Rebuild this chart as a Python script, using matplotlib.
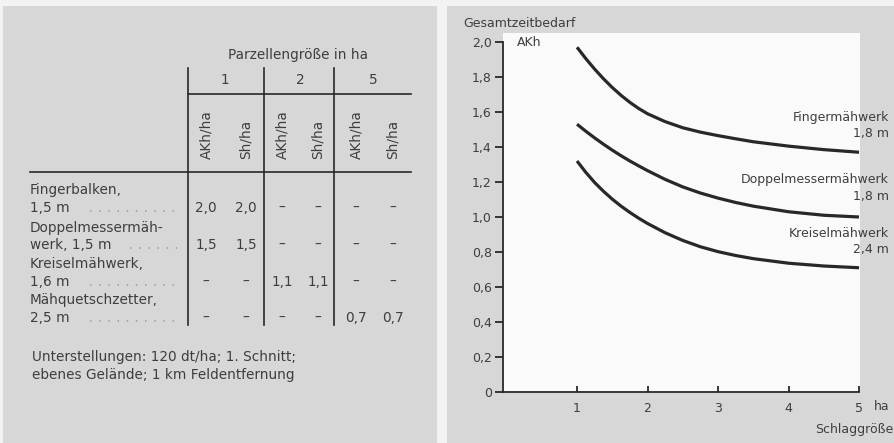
import matplotlib
matplotlib.use("Agg")
import matplotlib.pyplot as plt
from matplotlib.patches import Rectangle

plt.rcParams["font.family"] = ["DejaVu Sans"]

# curve data (Schlaggröße in ha -> Gesamtzeitbedarf AKh/ha)
x_ha = [1.0, 1.125, 1.25, 1.375, 1.5, 1.625, 1.75, 1.875, 2.0, 2.25, 2.5, 2.75,
        3.0, 3.25, 3.5, 4.0, 4.5, 5.0]
finger = [1.97, 1.905, 1.845, 1.79, 1.74, 1.695, 1.655, 1.62, 1.59, 1.545, 1.51, 1.485,
          1.465, 1.447, 1.43, 1.405, 1.385, 1.37]
doppel = [1.53, 1.49, 1.452, 1.416, 1.382, 1.35, 1.32, 1.292, 1.265, 1.215, 1.172, 1.137,
          1.108, 1.083, 1.062, 1.03, 1.01, 1.00]
kreisel = [1.32, 1.255, 1.197, 1.147, 1.102, 1.062, 1.026, 0.993, 0.963, 0.91, 0.866, 0.83,
           0.802, 0.78, 0.762, 0.736, 0.72, 0.71]
curve_names = ["Fingermähwerk", "Doppelmessermähwerk", "Kreiselmähwerk"]
curve_widths = ["1,8 m", "1,8 m", "2,4 m"]
yticks = [0, 0.2, 0.4, 0.6, 0.8, 1.0, 1.2, 1.4, 1.6, 1.8, 2.0]
ytick_labels = ["0", "0,2", "0,4", "0,6", "0,8", "1,0", "1,2", "1,4", "1,6", "1,8", "2,0"]
xticks = [1, 2, 3, 4, 5]

# table data
group_sizes = ["1", "2", "5"]
sub_headers = ["AKh/ha", "Sh/ha"]
row_labels = [("Fingerbalken,", "1,5 m"), ("Doppelmessermäh-", "werk, 1,5 m"),
              ("Kreiselmähwerk,", "1,6 m"), ("Mähquetschzetter,", "2,5 m")]
table_values = [["2,0", "2,0", "–", "–", "–", "–"],
                ["1,5", "1,5", "–", "–", "–", "–"],
                ["–", "–", "1,1", "1,1", "–", "–"],
                ["–", "–", "–", "–", "0,7", "0,7"]]
footnote = ["Unterstellungen: 120 dt/ha; 1. Schnitt;",
            "ebenes Gelände; 1 km Feldentfernung"]

W, H = 895, 443
PANEL = "#d7d7d7"
TXT = "#3e3e3e"
INK = "#282828"

fig = plt.figure(figsize=(W / 100, H / 100), dpi=100, facecolor="#f3f3f3")

# overlay axes in pixel coordinates for panels and the table
ov = fig.add_axes([0, 0, 1, 1])
ov.set_xlim(0, W)
ov.set_ylim(H, 0)
ov.set_axis_off()
ov.add_patch(Rectangle((3, 6), 434, H - 6, facecolor=PANEL, edgecolor="none"))
ov.add_patch(Rectangle((447, 6), W - 447, H - 6, facecolor=PANEL, edgecolor="none"))
ov.add_patch(Rectangle((503, 33), 357, 360, facecolor="#fafafa", edgecolor="none"))

# ---- table ----
fs = 9.8
ov.text(298, 55, "Parzellengröße in ha", ha="center", va="center", fontsize=fs, color=TXT)
col_lines = [188, 264, 334]
for xl in col_lines:
    ov.plot([xl, xl], [68, 325], color=INK, lw=1.2)
ov.plot([188, 411], [94, 94], color=INK, lw=1.2)
ov.plot([30, 411], [172, 172], color=INK, lw=1.2)
group_x = [225, 300, 373]
for gx, g in zip(group_x, group_sizes):
    ov.text(gx, 80, g, ha="center", va="center", fontsize=fs, color=TXT)
col_x = [206, 246, 282, 318, 356, 393]
for i, cx in enumerate(col_x):
    ov.text(cx, 159, sub_headers[i % 2], ha="center", va="bottom", rotation=90,
            fontsize=fs, color=TXT)
row_y1 = [190, 228, 264, 300]
row_y2 = [208, 245, 282, 318]
dot_start = [90, 130, 90, 90]
for r, (l1, l2) in enumerate(row_labels):
    ov.text(30, row_y1[r], l1, ha="left", va="center", fontsize=fs, color=TXT)
    ov.text(30, row_y2[r], l2, ha="left", va="center", fontsize=fs, color=TXT)
    ov.plot([dot_start[r], 177], [row_y2[r] + 3, row_y2[r] + 3], color="#9a9a9a",
            lw=1.1, linestyle=(0, (1, 5)))
    for cx, v in zip(col_x, table_values[r]):
        ov.text(cx, row_y2[r], v, ha="center", va="center", fontsize=fs, color=TXT)
ov.text(32, 357, footnote[0], ha="left", va="center", fontsize=fs, color=TXT)
ov.text(32, 375, footnote[1], ha="left", va="center", fontsize=fs, color=TXT)

# ---- chart ----
ax = fig.add_axes([503 / W, 1 - 392 / H, 356 / W, 350 / H])
ax.set_facecolor("none")
ax.set_xlim(-0.05, 5)
ax.set_ylim(0, 2.0)
for s in ["top", "right"]:
    ax.spines[s].set_visible(False)
for s in ["left", "bottom"]:
    ax.spines[s].set_color(INK)
    ax.spines[s].set_linewidth(1.3)
ax.spines["left"].set_bounds(0, 2.0)
ax.set_yticks(yticks)
ax.set_yticklabels(ytick_labels)
ax.set_xticks(xticks)
ax.set_xticklabels([str(t) for t in xticks])
ax.tick_params(axis="y", direction="out", length=6, width=1.3, color=INK,
               labelsize=9, labelcolor=TXT, pad=2)
ax.tick_params(axis="x", direction="in", length=4, width=1.3, color=INK,
               labelsize=9, labelcolor=TXT, pad=7)

for ys in [finger, doppel, kreisel]:
    ax.plot(x_ha, ys, color=INK, lw=2.3, solid_capstyle="butt",
            solid_joinstyle="round", clip_on=False)

ov.text(463, 23, "Gesamtzeitbedarf", ha="left", va="center", fontsize=9, color=TXT)
ov.text(517, 42, "AKh", ha="left", va="center", fontsize=9, color=TXT)
ov.text(874, 407, "ha", ha="left", va="center", fontsize=9, color=TXT)
ov.text(893, 430, "Schlaggröße", ha="right", va="center", fontsize=9, color=TXT)
label_y = [117, 180, 233]
for ly, name, w in zip(label_y, curve_names, curve_widths):
    ov.text(889, ly, name, ha="right", va="center", fontsize=9, color=TXT)
    ov.text(889, ly + 16, w, ha="right", va="center", fontsize=9, color=TXT)

fig.savefig("out.png", dpi=100, facecolor=fig.get_facecolor())
